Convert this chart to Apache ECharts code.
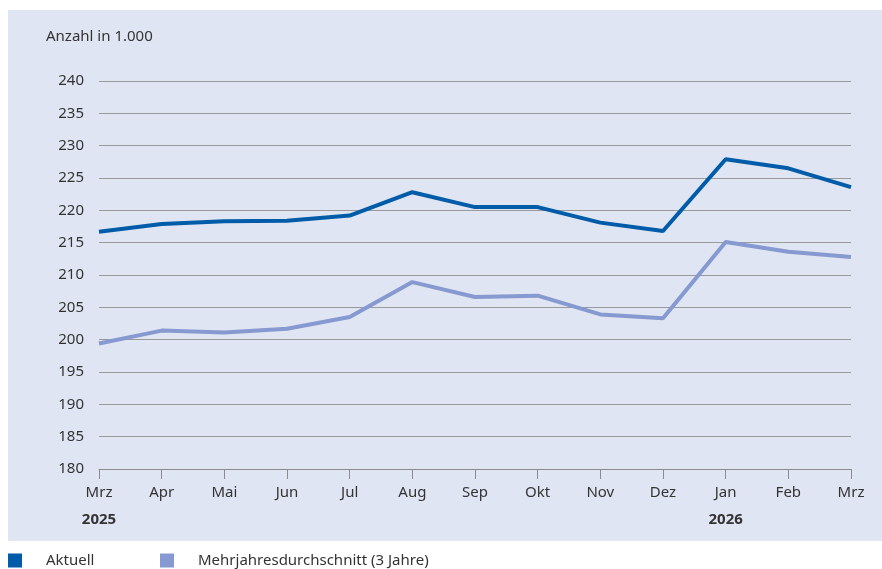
<!DOCTYPE html>
<html><head><meta charset="utf-8">
<script src="https://cdn.jsdelivr.net/npm/echarts@6/dist/echarts.min.js"></script>
<style>html,body{margin:0;padding:0;background:#fff}#c{width:882px;height:569px}</style>
</head><body><div id="c"></div>
<script>
const months = ['Mrz','Apr','Mai','Jun','Jul','Aug','Sep','Okt','Nov','Dez','Jan','Feb','Mrz'];
const years = ['2025','','','','','','','','','','2026','',''];
const aktuell = [216.7, 217.9, 218.3, 218.4, 219.2, 222.8, 220.5, 220.5, 218.1, 216.8, 227.9, 226.5, 223.6];
const mehrjahres = [199.4, 201.4, 201.1, 201.7, 203.5, 208.9, 206.6, 206.8, 203.9, 203.3, 215.1, 213.6, 212.8];
const yTicks = {min: 180, max: 240, step: 5};
const unitLabel = 'Anzahl in 1.000';
const seriesNames = ['Aktuell', 'Mehrjahresdurchschnitt (3 Jahre)'];

const FONT = 'Noto Sans';
const TXT = '#333333';
const chart = echarts.init(document.getElementById('c'), null, {renderer: 'canvas'});
chart.setOption({
  animation: false,
  backgroundColor: '#ffffff',
  graphic: [{type: 'rect', left: 8, top: 10, shape: {width: 874, height: 531}, style: {fill: '#dfe5f2'}, z: -10}],
  title: {text: unitLabel, left: 46, top: 29, padding: 0, textStyle: {fontFamily: FONT, fontSize: 15, fontWeight: 'normal', color: TXT}},
  legend: [
    {data: [seriesNames[0]], left: 8, top: 553, padding: 0, icon: 'rect', itemWidth: 14, itemHeight: 14,
     textStyle: {fontFamily: FONT, fontSize: 15, color: TXT, padding: [0,0,0,19]}},
    {data: [seriesNames[1]], left: 160, top: 553, padding: 0, icon: 'rect', itemWidth: 14, itemHeight: 14,
     textStyle: {fontFamily: FONT, fontSize: 15, color: TXT, padding: [0,0,0,19]}}
  ],
  grid: {left: 99, right: 31, top: 81, bottom: 100, containLabel: false},
  xAxis: {
    type: 'category', data: months, boundaryGap: false,
    axisLine: {lineStyle: {color: '#8c8c8c', width: 1}},
    axisTick: {show: true, length: 10, alignWithLabel: true, lineStyle: {color: '#8c8c8c'}},
    axisLabel: {
      fontFamily: FONT, fontSize: 15, color: TXT, margin: 10, lineHeight: 27, interval: 0,
      formatter: (v, i) => years[i] ? v + '\n{y|' + years[i] + '}' : v,
      rich: {y: {fontFamily: FONT, fontSize: 15, fontWeight: 'bold', color: TXT, lineHeight: 27}}
    }
  },
  yAxis: {
    type: 'value', min: yTicks.min, max: yTicks.max, interval: yTicks.step,
    axisLine: {show: false}, axisTick: {show: false},
    axisLabel: {fontFamily: FONT, fontSize: 15, color: TXT, margin: 15},
    splitLine: {lineStyle: {color: '#9a9a9a', width: 1}}
  },
  series: [
    {name: seriesNames[0], type: 'line', data: aktuell, symbol: 'none', lineStyle: {width: 4, color: '#005ca9'}, itemStyle: {color: '#005ca9'}, z: 3},
    {name: seriesNames[1], type: 'line', data: mehrjahres, symbol: 'none', lineStyle: {width: 4, color: '#8699d0'}, itemStyle: {color: '#8699d0'}, z: 2}
  ]
});
</script></body></html>
